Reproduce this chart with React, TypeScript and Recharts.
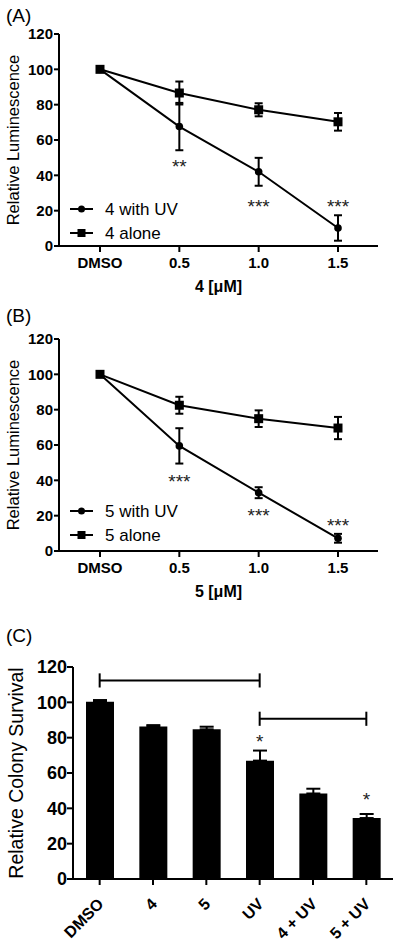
import React from 'react';
import {
  LineChart,
  Line,
  BarChart,
  Bar,
  XAxis,
  YAxis,
  ErrorBar,
  Legend,
  Label,
  ReferenceDot,
  ReferenceLine,
} from 'recharts';

const FONT = '"Liberation Sans", Arial, Helvetica, sans-serif';

// shared
const doses = ['DMSO', '0.5', '1.0', '1.5'];
const yTicks = [0, 20, 40, 60, 80, 100, 120];

// panel A: compound 4
const a4WithUv = [100, 67.6, 42.0, 10.2];
const a4WithUvErr = [0, 13.4, 7.9, 7.2];
const a4Alone = [100, 86.6, 77.1, 70.3];
const a4AloneErr = [0, 6.5, 3.7, 5.0];
const a4Stars = ['', '**', '***', '***'];

// panel B: compound 5
const b5WithUv = [100, 59.5, 33.0, 7.2];
const b5WithUvErr = [0, 10.0, 3.1, 2.5];
const b5Alone = [100, 82.5, 74.9, 69.6];
const b5AloneErr = [0, 4.8, 4.7, 6.3];
const b5Stars = ['', '***', '***', '***'];

// panel C: colony survival
const treatments = ['DMSO', '4', '5', 'UV', '4 + UV', '5 + UV'];
const survival = [100.3, 86.3, 84.7, 67.0, 48.4, 34.5];
const survivalErr = [1.0, 0.8, 1.5, 5.7, 2.7, 2.3];
const survivalStars = ['', '', '', '*', '', '*'];

// where the star annotations sit (in y units)
const a4StarLevel = [0, 47.5, 25, 25];
const b5StarLevel = [0, 42, 22.6, 16.9];
const survivalStarLevel = [0, 0, 0, 80, 0, 47.7];

const axisStyle = { stroke: '#000', strokeWidth: 2 };

const sideLabel = (text: string, size: number, cxOff: number) => (props: any) => {
  const vb = props.viewBox || { x: 0, y: 0, width: 0, height: 0 };
  const cx = vb.x + cxOff;
  const cy = vb.y + vb.height / 2;
  return (
    <text
      x={cx}
      y={cy}
      transform={`rotate(-90, ${cx}, ${cy})`}
      textAnchor="middle"
      dominantBaseline="central"
      fontSize={size}
      fill="#000"
    >
      {text}
    </text>
  );
};

const starShape = (text: string, size: number) => (p: any) => (
  <text x={p.cx} y={p.cy} dy={size * 0.57} textAnchor="middle" fontSize={size} fill="#222">
    {text}
  </text>
);

const CircleDot = (p: any) =>
  p.cx == null ? <g key={p.index} /> : <circle key={p.index} cx={p.cx} cy={p.cy} r={3.8} fill="#000" />;

const SquareDot = (p: any) =>
  p.cx == null ? <g key={p.index} /> : <rect key={p.index} x={p.cx - 4.5} y={p.cy - 4.5} width={9} height={9} fill="#000" />;

const legendContent = (names: string[]) => () => (
  <div style={{ fontFamily: FONT, fontSize: 17, color: '#000' }}>
    {names.map((n, i) => (
      <div key={n} style={{ display: 'flex', alignItems: 'center', height: 24 }}>
        <svg width={35} height={12} style={{ display: 'block' }}>
          <line x1={0} y1={6} x2={23} y2={6} stroke="#000" strokeWidth={2} />
          {i === 0 ? <circle cx={11.5} cy={6} r={3.5} fill="#000" /> : <rect x={7.5} y={2} width={8} height={8} fill="#000" />}
        </svg>
        <span style={{ lineHeight: '17px' }}>{n}</span>
      </div>
    ))}
  </div>
);

interface DoseProps {
  top: number;
  tag: string;
  tagTop: number;
  compound: string;
  uv: number[];
  uvErr: number[];
  alone: number[];
  aloneErr: number[];
  stars: string[];
  starLevel: number[];
  legendTop: number;
}

function DosePanel(props: DoseProps) {
  const { top, tag, tagTop, compound, uv, uvErr, alone, aloneErr, stars, starLevel, legendTop } = props;
  const data = doses.map((d, i) => ({
    dose: d,
    uv: uv[i],
    uvErr: uvErr[i],
    alone: alone[i],
    aloneErr: aloneErr[i],
  }));
  return (
    <div style={{ position: 'absolute', left: 0, top, width: 400, height: 300 }}>
      <div style={{ position: 'absolute', left: 6, top: tagTop, fontSize: 19, lineHeight: '19px', zIndex: 2 }}>{tag}</div>
      <LineChart width={400} height={300} data={data} margin={{ top: 34, right: 22, bottom: 0, left: 0 }}>
        <XAxis
          dataKey="dose"
          padding={{ left: 41, right: 40 }}
          height={54}
          axisLine={axisStyle}
          tickLine={axisStyle}
          tickSize={6}
          tickMargin={5}
          interval={0}
          tick={{ fill: '#000', fontSize: 15, fontWeight: 'bold' }}
        >
          <Label value={`${compound} [μM]`} position="insideBottom" offset={8} fill="#000" fontSize={16} fontWeight="bold" />
        </XAxis>
        <YAxis
          domain={[0, 120]}
          ticks={yTicks}
          interval={0}
          width={59}
          axisLine={axisStyle}
          tickLine={axisStyle}
          tickSize={5}
          tickMargin={1}
          tick={{ fill: '#000', fontSize: 15, fontWeight: 'bold' }}
        >
          <Label content={sideLabel('Relative Luminescence', 16.5, 13)} />
        </YAxis>
        <Legend
          layout="vertical"
          align="center"
          verticalAlign="middle"
          wrapperStyle={{ left: 70, top: legendTop, width: 160 }}
          content={legendContent([`${compound} with UV`, `${compound} alone`])}
        />
        <Line dataKey="uv" stroke="#000" strokeWidth={2} dot={CircleDot} activeDot={false} isAnimationActive={false}>
          <ErrorBar dataKey="uvErr" width={4} strokeWidth={2} stroke="#000" direction="y" />
        </Line>
        <Line dataKey="alone" stroke="#000" strokeWidth={2} dot={SquareDot} activeDot={false} isAnimationActive={false}>
          <ErrorBar dataKey="aloneErr" width={4} strokeWidth={2} stroke="#000" direction="y" />
        </Line>
        {stars.map((s, i) =>
          s ? (
            <ReferenceDot key={i} x={doses[i]} y={starLevel[i]} r={0} shape={starShape(s, 19)} />
          ) : null,
        )}
      </LineChart>
    </div>
  );
}

function SurvivalPanel() {
  const data = treatments.map((t, i) => ({
    name: t,
    value: survival[i],
    err: [0, survivalErr[i]],
  }));
  const brackets = [
    { from: 'DMSO', to: 'UV', y: 112.4 },
    { from: 'UV', to: '5 + UV', y: 90.7 },
  ];
  const SlantTick = (p: any) => (
    <text
      x={p.x + 5}
      y={p.y + 18}
      transform={`rotate(-45, ${p.x + 5}, ${p.y + 18})`}
      textAnchor="end"
      fontSize={16}
      fontWeight="bold"
      fill="#000"
    >
      {p.payload.value}
    </text>
  );
  return (
    <div style={{ position: 'absolute', left: 0, top: 620, width: 400, height: 327 }}>
      <div style={{ position: 'absolute', left: 6, top: 6, fontSize: 19, lineHeight: '19px', zIndex: 2 }}>(C)</div>
      <BarChart width={400} height={327} data={data} margin={{ top: 47, right: 7, bottom: 0, left: 0 }}>
        <XAxis
          dataKey="name"
          height={68}
          axisLine={axisStyle}
          tickLine={axisStyle}
          tickSize={6}
          tickMargin={2}
          interval={0}
          tick={SlantTick}
        />
        <YAxis
          domain={[0, 120]}
          ticks={yTicks}
          interval={0}
          width={73}
          axisLine={axisStyle}
          tickLine={axisStyle}
          tickSize={6}
          tickMargin={0}
          tick={{ fill: '#000', fontSize: 18, fontWeight: 'bold' }}
        >
          <Label content={sideLabel('Relative Colony Survival', 19.5, 16)} />
        </YAxis>
        <Bar dataKey="value" fill="#000" barSize={28} isAnimationActive={false}>
          <ErrorBar dataKey="err" width={7} strokeWidth={2} stroke="#000" direction="y" />
        </Bar>
        {brackets.map((b, i) => (
          <ReferenceLine
            key={`b${i}`}
            segment={[{ x: b.from, y: b.y }, { x: b.to, y: b.y }]}
            stroke="#000"
            strokeWidth={2}
          />
        ))}
        {brackets.flatMap((b, i) =>
          [b.from, b.to].map((c, j) => (
            <ReferenceLine
              key={`c${i}${j}`}
              segment={[{ x: c, y: b.y - 4 }, { x: c, y: b.y + 4 }]}
              stroke="#000"
              strokeWidth={2}
            />
          )),
        )}
        {survivalStars.map((s, i) =>
          s ? (
            <ReferenceDot key={`s${i}`} x={treatments[i]} y={survivalStarLevel[i]} r={0} shape={starShape(s, 19)} />
          ) : null,
        )}
      </BarChart>
    </div>
  );
}

export default function App() {
  return (
    <div
      style={{
        position: 'absolute',
        left: 0,
        top: 0,
        width: 400,
        height: 947,
        background: '#fff',
        fontFamily: FONT,
        color: '#000',
      }}
    >
      <DosePanel
        top={0}
        tag="(A)"
        tagTop={6}
        compound="4"
        uv={a4WithUv}
        uvErr={a4WithUvErr}
        alone={a4Alone}
        aloneErr={a4AloneErr}
        stars={a4Stars}
        starLevel={a4StarLevel}
        legendTop={197}
      />
      <DosePanel
        top={305}
        tag="(B)"
        tagTop={1}
        compound="5"
        uv={b5WithUv}
        uvErr={b5WithUvErr}
        alone={b5Alone}
        aloneErr={b5AloneErr}
        stars={b5Stars}
        starLevel={b5StarLevel}
        legendTop={194}
      />
      <SurvivalPanel />
    </div>
  );
}
